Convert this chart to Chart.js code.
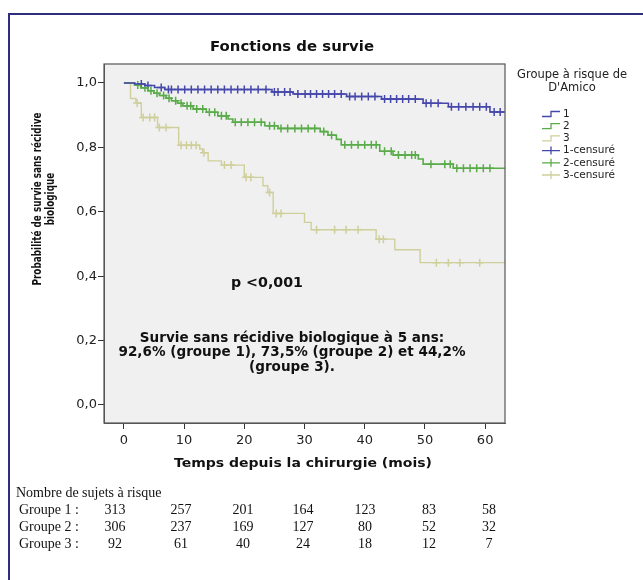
<!DOCTYPE html>
<html lang="fr">
<head>
<meta charset="utf-8">
<title>Fonctions de survie</title>
<script src="https://cdn.jsdelivr.net/npm/chart.js@4.4.1/dist/chart.umd.min.js"></script>
<style>
  html, body { margin: 0; padding: 0; background: #fff; }
  #wrap { position: relative; width: 643px; height: 580px; overflow: hidden; }
  #frame { position: absolute; left: 8px; top: 13px; width: 700px; height: 700px;
           border-left: 2px solid #2d2f7e; border-top: 2px solid #2d2f7e; }
  canvas { position: absolute; left: 0; top: 0; }
  .risk { position: absolute; font-family: "Liberation Serif", serif; font-size: 14px;
          color: #111; white-space: nowrap; line-height: 14px; }
</style>
</head>
<body>
<div id="wrap">
  <div id="frame"></div>
  <canvas id="km" width="643" height="580"></canvas>
  <div id="riskTable"></div>
</div>
<script>
// Kaplan-Meier steps (time in months, survival after the drop)
const times1 = [0, 1.8, 3.5, 5.1, 6.8, 24.6, 28.1, 37.0, 42.8, 49.7, 53.9, 60.8];
const surv1  = [1, 0.997, 0.992, 0.986, 0.980, 0.972, 0.966, 0.958, 0.950, 0.937, 0.926, 0.910];

const times2 = [0, 1.8, 2.8, 4.0, 5.0, 5.9, 7.0, 7.9, 8.9, 9.8, 11.5, 13.7, 15.6, 17.3, 18.1,
                23.4, 25.6, 32.6, 33.9, 35.3, 36.1, 42.5, 44.7, 48.9, 49.7, 54.7];
const surv2  = [1, 0.994, 0.985, 0.976, 0.968, 0.961, 0.953, 0.945, 0.937, 0.929, 0.919, 0.909, 0.898, 0.888, 0.878,
                0.867, 0.859, 0.849, 0.838, 0.825, 0.808, 0.788, 0.776, 0.764, 0.748, 0.735];

const times3 = [0, 1.1, 2.0, 2.9, 5.6, 9.1, 12.6, 13.1, 14.0, 16.2, 20.0, 23.1, 23.9, 24.8,
                30.0, 31.1, 41.9, 45.0, 49.2];
const surv3  = [1, 0.952, 0.938, 0.893, 0.862, 0.807, 0.795, 0.783, 0.758, 0.745, 0.707, 0.681, 0.660, 0.595,
                0.567, 0.544, 0.515, 0.482, 0.442];

// end of follow-up (curves run to the right edge)
const lastTime = 64;

// censored times
const cens1 = [2.9, 4.0, 6.2, 7.4, 7.9, 9.0, 10.1, 11.2, 12.3, 13.4, 14.5, 15.6, 16.7, 17.8, 18.9, 20.0,
               21.1, 22.3, 23.6, 25.0, 25.6, 26.7, 27.6, 28.9, 30.1, 31.0, 32.0, 33.0, 34.0, 35.0, 36.1,
               37.5, 38.4, 39.5, 40.6, 41.7, 43.3, 44.3, 45.3, 46.3, 47.3, 48.4, 50.2, 51.0, 52.2,
               54.4, 55.6, 56.8, 58.0, 59.1, 60.2, 61.5, 62.5];
const cens2 = [2.3, 3.5, 4.5, 5.5, 6.6, 7.5, 8.6, 9.5, 10.5, 11.1, 12.1, 13.1, 14.2, 15.1, 16.2, 17.0,
               18.5, 19.5, 20.6, 21.7, 22.8, 24.2, 25.0, 26.1, 27.2, 28.4, 29.5, 30.6, 31.7, 33.2,
               34.5, 36.7, 37.8, 38.9, 40.0, 41.1, 41.9, 43.3, 44.4, 45.6, 46.7, 47.8, 48.4,
               51.0, 53.3, 54.2, 55.3, 56.4, 57.5, 58.6, 59.7, 60.8];
const cens3 = [2.2, 3.2, 4.3, 5.1, 5.9, 7.0, 9.5, 10.4, 11.2, 12.0, 13.3, 16.7, 17.8, 20.3, 21.1,
               24.2, 25.3, 26.1, 32.0, 35.0, 36.9, 38.9, 42.4, 43.1, 51.9, 53.9, 55.8, 59.1];

const groupLabels = ['1', '2', '3'];
const censLabels = ['1-censuré', '2-censuré', '3-censuré'];

const xTicks = [0, 10, 20, 30, 40, 50, 60];
const yTicks = [0, 0.2, 0.4, 0.6, 0.8, 1.0];
const yTickLabels = ['0,0', '0,2', '0,4', '0,6', '0,8', '1,0'];

// number at risk
const riskHeader = 'Nombre de sujets à risque';
const riskRows = ['Groupe 1 :', 'Groupe 2 :', 'Groupe 3 :'];
const atRisk1 = [313, 257, 201, 164, 123, 83, 58];
const atRisk2 = [306, 237, 169, 127, 80, 52, 32];
const atRisk3 = [92, 61, 40, 24, 18, 12, 7];

const colors = ['#4647ab', '#5aab49', '#cfcf9b'];

function survAt(times, surv, t) {
    let s = surv[0];
    for (let i = 0; i < times.length; i++) {
        if (times[i] <= t) s = surv[i];
    }
    return s;
}

function curve(times, surv) {
    let pts = times.map((t, i) => ({ x: t, y: surv[i] }));
    pts.push({ x: lastTime, y: surv[surv.length - 1] });
    return pts;
}

function censPoints(cens, times, surv) {
    return cens.map(t => ({ x: t, y: survAt(times, surv, t) }));
}

const series = [
    { t: times1, s: surv1, c: cens1 },
    { t: times2, s: surv2, c: cens2 },
    { t: times3, s: surv3, c: cens3 }
];

let datasets = [];
series.forEach((g, i) => {
    datasets.push({
        type: 'line',
        label: groupLabels[i],
        data: curve(g.t, g.s),
        stepped: 'before',
        borderColor: colors[i],
        borderWidth: i == 2 ? 1.4 : 1.6,
        pointRadius: 0,
        fill: false
    });
});
series.forEach((g, i) => {
    datasets.push({
        type: 'scatter',
        label: censLabels[i],
        data: censPoints(g.c, g.t, g.s),
        pointStyle: 'cross',
        pointRadius: 4,
        borderColor: colors[i],
        backgroundColor: colors[i],
        borderWidth: 1.5,
        showLine: false
    });
});

// draws one line of text squeezed/stretched to a given width
function fitText(ctx, text, x, y, width) {
    const w = ctx.measureText(text).width;
    ctx.save();
    ctx.translate(x, y);
    ctx.scale(width / w, 1);
    ctx.fillText(text, 0, 0);
    ctx.restore();
}

const decor = {
    id: 'decor',
    beforeDraw(chart) {
        const { ctx, chartArea: a } = chart;
        ctx.save();
        ctx.fillStyle = '#f0f0f0';
        ctx.fillRect(a.left, a.top, a.right - a.left, a.bottom - a.top);
        ctx.restore();
    },
    afterDatasetsDraw(chart) {
        const { ctx, chartArea: a } = chart;
        ctx.save();
        ctx.strokeStyle = '#555';
        ctx.lineWidth = 1.2;
        ctx.strokeRect(a.left, a.top, a.right - a.left, a.bottom - a.top);
        ctx.restore();
    },
    afterDraw(chart) {
        const ctx = chart.ctx;
        ctx.save();
        ctx.fillStyle = '#111';
        ctx.textBaseline = 'middle';
        ctx.textAlign = 'center';

        ctx.font = 'bold 14px "DejaVu Sans"';
        fitText(ctx, 'Fonctions de survie', 292, 47, 164);

        ctx.font = 'bold 13px "DejaVu Sans"';
        fitText(ctx, 'Temps depuis la chirurgie (mois)', 303, 464, 258);

        // y axis title, rotated
        ctx.font = 'bold 13px "DejaVu Sans"';
        const l1 = 'Probabilité de survie sans récidive';
        const l2 = 'biologique';
        const k = 173 / ctx.measureText(l1).width;
        ctx.save();
        ctx.translate(38, 199);
        ctx.rotate(-Math.PI / 2);
        ctx.scale(k, 1);
        ctx.fillText(l1, 0, 0);
        ctx.fillText(l2, 0, 12.5);
        ctx.restore();

        // annotations in the plot
        ctx.font = 'bold 14px "DejaVu Sans"';
        fitText(ctx, 'p <0,001', 267, 283, 72);
        const n1 = 'Survie sans récidive biologique à 5 ans:';
        const n2 = '92,6% (groupe 1), 73,5% (groupe 2) et 44,2%';
        const n3 = '(groupe 3).';
        const kk = 347 / ctx.measureText(n2).width;
        [n1, n2, n3].forEach((s, i) => {
            ctx.save();
            ctx.translate(292, 338 + i * 14.5);
            ctx.scale(kk, 1);
            ctx.fillText(s, 0, 0);
            ctx.restore();
        });

        // legend
        ctx.font = '12px "DejaVu Sans"';
        ctx.fillStyle = '#222';
        fitText(ctx, 'Groupe à risque de', 572, 75, 110);
        ctx.font = '11.5px "DejaVu Sans"';
        ctx.fillText("D'Amico", 572, 88);
        ctx.font = '10.5px "DejaVu Sans"';
        ctx.textAlign = 'left';
        const items = groupLabels.concat(censLabels);
        items.forEach((lab, i) => {
            const y = 114 + i * 12.2;
            const col = colors[i % 3];
            ctx.strokeStyle = col;
            ctx.lineWidth = 1.3;
            ctx.beginPath();
            if (i < 3) {
                ctx.moveTo(542, y + 2.5);
                ctx.lineTo(551, y + 2.5);
                ctx.lineTo(551, y - 2.5);
                ctx.lineTo(560, y - 2.5);
            } else {
                ctx.moveTo(542, y);
                ctx.lineTo(560, y);
                ctx.moveTo(551, y - 4);
                ctx.lineTo(551, y + 4);
            }
            ctx.stroke();
            ctx.fillStyle = '#222';
            ctx.fillText(lab, 563, y);
        });
        ctx.restore();
    }
};

const ctx = document.getElementById('km').getContext('2d');
const chart = new Chart(ctx, {
    data: { datasets: datasets },
    options: {
        responsive: false,
        animation: false,
        devicePixelRatio: 1,
        layout: { padding: { top: 64, right: 138, left: 0, bottom: 0 } },
        plugins: {
            legend: { display: false },
            title: { display: false },
            tooltip: { enabled: false }
        },
        scales: {
            x: {
                type: 'linear',
                min: -3.3,
                max: 63.3,
                afterFit: s => { s.height = 157; },
                afterBuildTicks: s => { s.ticks = xTicks.map(v => ({ value: v })); },
                grid: { drawOnChartArea: false, drawTicks: true, tickLength: 6, color: '#333' },
                border: { display: true, color: '#555' },
                ticks: { padding: 4, color: '#222', font: { family: 'DejaVu Sans', size: 13 },
                         autoSkip: false, maxRotation: 0, callback: v => String(v) }
            },
            y: {
                type: 'linear',
                min: -0.056,
                max: 1.059,
                afterFit: s => { s.width = 104; },
                afterBuildTicks: s => { s.ticks = yTicks.map(v => ({ value: v })); },
                grid: { drawOnChartArea: false, drawTicks: true, tickLength: 6, color: '#333' },
                border: { display: true, color: '#555' },
                ticks: { padding: 1, color: '#222', font: { family: 'DejaVu Sans', size: 13 },
                         autoSkip: false, callback: (v, i) => yTickLabels[i] }
            }
        }
    },
    plugins: [decor]
});

// number-at-risk table under the chart
const riskColX = [115, 181, 243, 303, 365, 429, 489];
const table = document.getElementById('riskTable');
function addText(text, x, y, center) {
    const el = document.createElement('div');
    el.className = 'risk';
    el.textContent = text;
    el.style.top = (y - 7) + 'px';
    el.style.left = x + 'px';
    if (center) el.style.transform = 'translateX(-50%)';
    table.appendChild(el);
}
addText(riskHeader, 16, 493, false);
[atRisk1, atRisk2, atRisk3].forEach((row, r) => {
    const y = 510 + r * 17;
    addText(riskRows[r], 19, y, false);
    row.forEach((n, i) => addText(String(n), riskColX[i], y, true));
});
</script>
</body>
</html>
